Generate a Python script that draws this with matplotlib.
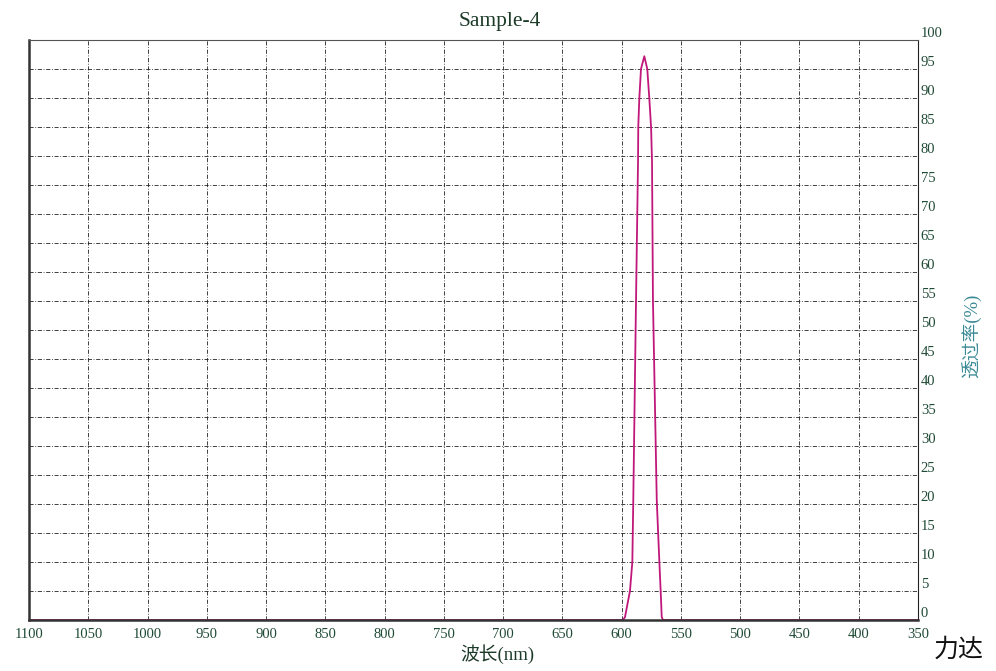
import numpy as np
import matplotlib.pyplot as plt

plt.rcParams['font.family'] = ['Liberation Serif', 'Noto Sans CJK SC', 'DejaVu Sans']

# transmittance curve (nm, %)
wavelength = [1100, 700, 620, 598.9, 597.2, 593.0, 591.0, 590.2, 587.9, 586.2, 586.0,
              585.1, 583.7, 580.9, 578.4, 576.7, 575.2, 574.4, 573.6, 570.4,
              568.2, 567.1, 566.2, 565.1, 540, 350]
transmit = [0, 0, 0, 0, 0.5, 5, 10, 20.7, 55, 79, 85,
            90, 95, 97.2, 95, 90, 85, 79, 55, 20.7,
            10, 5, 0.5, 0, 0, 0]

x_ticks = np.arange(350, 1101, 50)
y_ticks = np.arange(0, 101, 5)

fig = plt.figure(figsize=(9.96, 6.71), dpi=100)
ax = fig.add_axes([0.0291, 0.076, 0.8926, 0.8644])

ax.plot(wavelength, transmit, color='#c0187a', linewidth=1.3)

ax.set_xlim(1100, 350)
ax.set_ylim(0, 100)
ax.set_xticks(x_ticks)
ax.set_yticks(y_ticks)
ax.yaxis.tick_right()
ax.tick_params(axis='both', length=0, labelsize=10.5, labelcolor='#1f4a35')
ax.tick_params(axis='x', pad=6)
ax.tick_params(axis='y', pad=2)
for lbl in ax.get_yticklabels():
    lbl.set_va('bottom')
ax.grid(True, color='#222222', linestyle=(0, (5, 2, 1, 2)), linewidth=0.6)

for side in ['left', 'bottom']:
    ax.spines[side].set_linewidth(1.8)
    ax.spines[side].set_color('#333333')
ax.spines['top'].set_linewidth(0.8)
ax.spines['top'].set_color('#555555')
ax.spines['right'].set_linewidth(0.8)
ax.spines['right'].set_color('#222222')

fig.text(0.502, 0.968, 'Sample-4', ha='center', va='center', fontsize=15.5, color='#1c3a28')
fig.text(0.499, 0.025, '波长(nm)', ha='center', va='center', fontsize=13.5, color='#1c3a28')
fig.text(0.975, 0.5, '透过率(%)', ha='center', va='center', fontsize=13.5,
         color='#3a8a95', rotation=90)
fig.text(0.963, 0.032, '力达', ha='center', va='center', fontsize=18, color='#111111',
         family=['Noto Sans CJK SC'])

plt.savefig('out.png', dpi=100)
